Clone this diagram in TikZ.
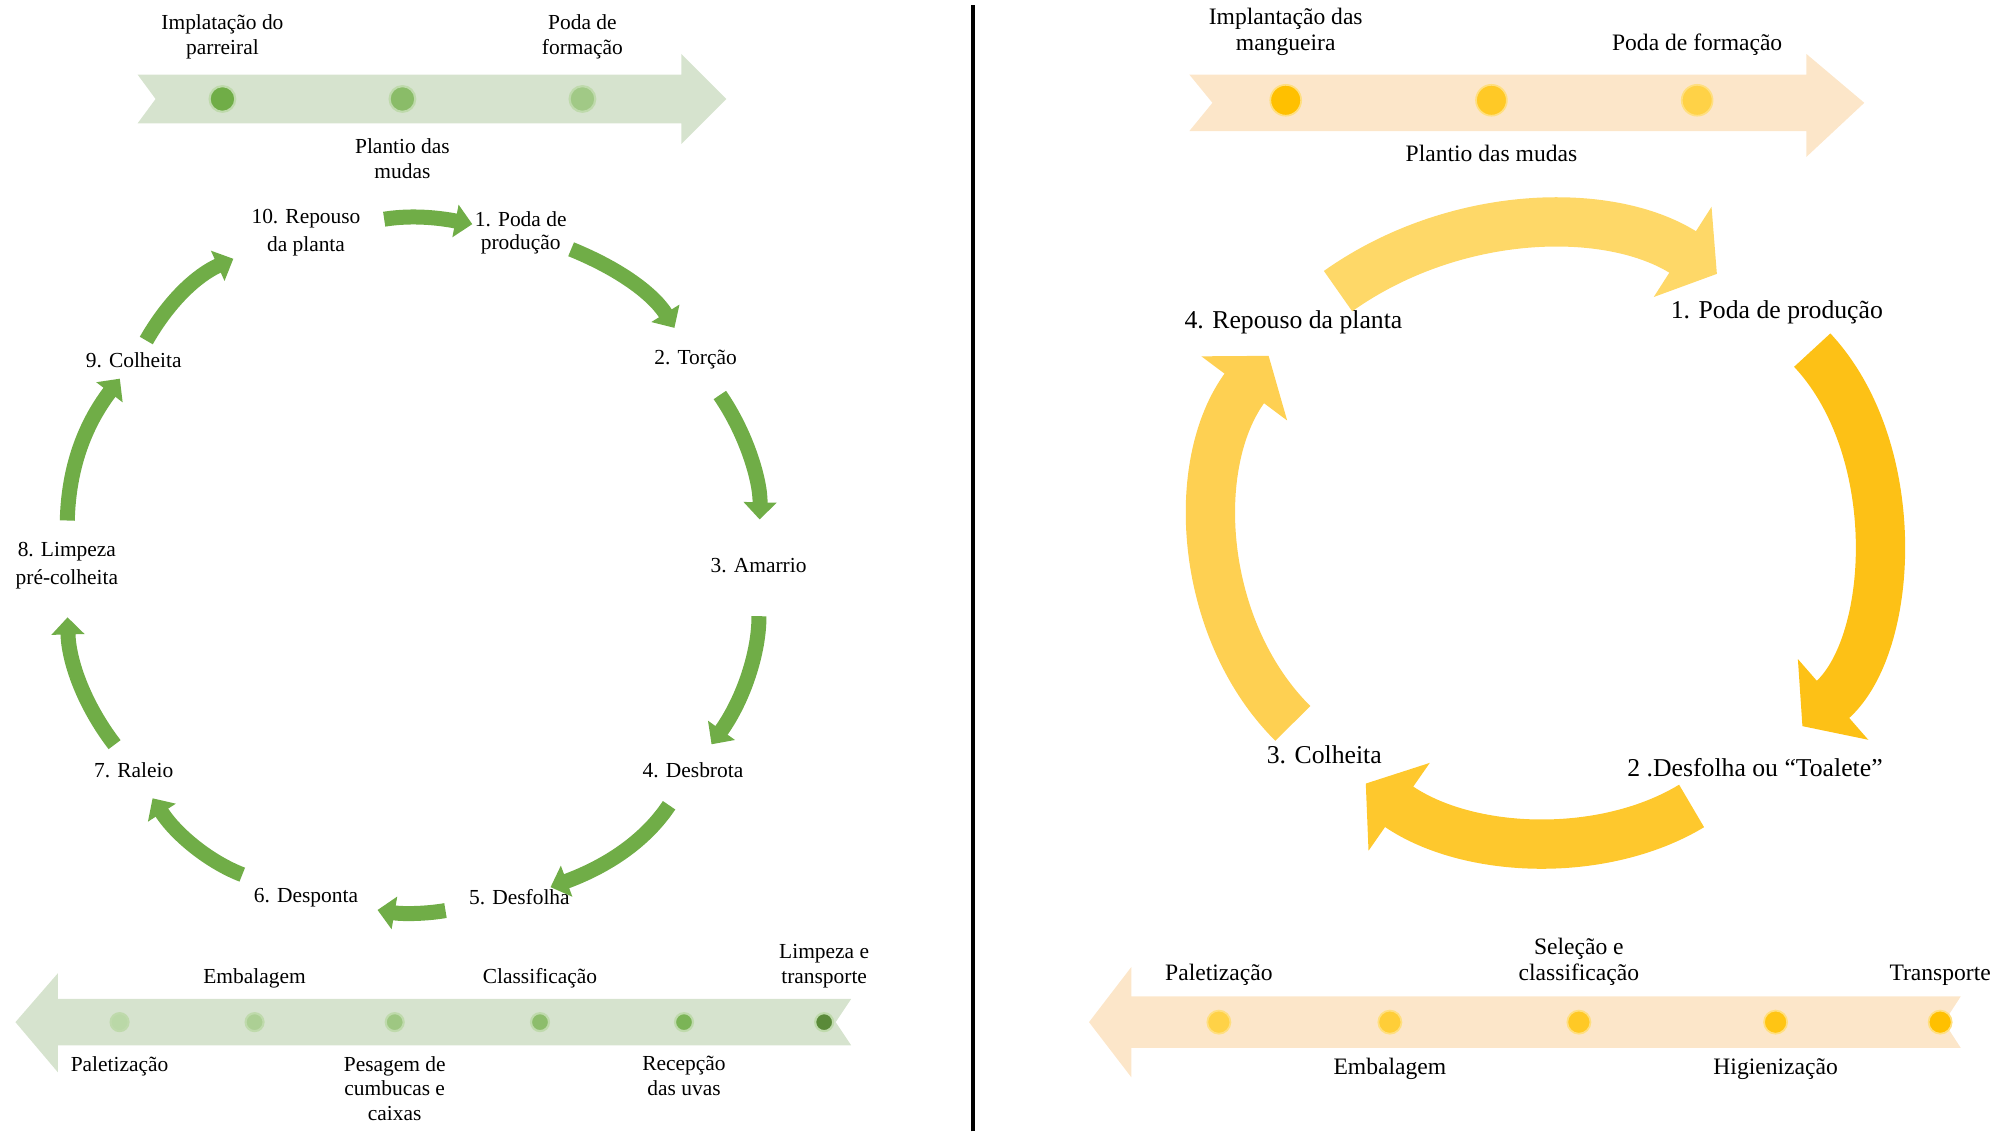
\documentclass[tikz,border=0pt]{standalone}
\usepackage{fontspec}
\setmainfont{Liberation Serif}
\usetikzlibrary{positioning,arrows.meta}
\definecolor{uva}{RGB}{112,173,71}
\definecolor{uvaband}{RGB}{214,227,206}
\definecolor{manga}{RGB}{255,192,0}
\definecolor{mangaband}{RGB}{252,230,201}

\begin{document}
\begin{tikzpicture}[x=0.6pt, y=0.6pt,
  every node/.style={font=\fontsize{10}{11.5}\selectfont, inner sep=1pt},
  tl/.style={align=center},
  mtl/.style={align=center, font=\fontsize{11}{12}\selectfont},
  gdot/.style={circle, inner sep=0pt, draw=white!55!uva, line width=1pt},
  mdot/.style={circle, inner sep=0pt, draw=white!50!manga, line width=0.8pt},
  gstage/.style={align=center, font=\fontsize{10}{13}\selectfont},
  mstage/.style={font=\fontsize{12}{14}\selectfont},
  garrow/.style={draw=uva, line width=7pt, -{Triangle[length=8pt, width=15pt]}},
  marrow/.style={line width=23pt, -{Triangle[length=19pt, width=49pt]}}
]
  \useasboundingbox (0,0) rectangle (1568,880);

  % uva: implantacao
  \fill[uvaband] (107,822) -- (530,822) -- (530,838) -- (565,803) -- (530,768)
    -- (530,784) -- (107,784) -- (121,803) -- cycle;
  \node[gdot, minimum size=12pt, fill=uva] (ga) at (173,803) {};
  \node[gdot, minimum size=12pt, fill=uva!82!white] (gb) at (313,803) {};
  \node[gdot, minimum size=12pt, fill=uva!66!white] (gc) at (453,803) {};
  \node[tl, above=11pt of ga] (gat) {Implatação do\\parreiral};
  \node[tl, below=11pt of gb] (gbt) {Plantio das\\mudas};
  \node[tl, above=11pt of gc] (gct) {Poda de\\formação};

  % uva: ciclo
  \node[gstage] (g1)  at (405,699) {1. Poda de\\[-2pt]produção};
  \node[gstage] (g2)  at (541,600) {2. Torção};
  \node[gstage] (g3)  at (590,440) {3. Amarrio};
  \node[gstage] (g4)  at (539,281) {4. Desbrota};
  \node[gstage] (g5)  at (404,182) {5. Desfolha};
  \node[gstage] (g6)  at (238,182) {6. Desponta};
  \node[gstage] (g7)  at (104,281) {7. Raleio};
  \node[gstage] (g8)  at (52,440)  {8. Limpeza\\pré-colheita};
  \node[gstage] (g9)  at (104,600) {9. Colheita};
  \node[gstage] (g10) at (238,699) {10. Repouso\\da planta};

  \draw[garrow, shorten <=10pt] (g10) to[bend left=10] (g1);
  \draw[garrow, shorten <=1pt, shorten >=11pt] (g1) to[bend left=18] (g2);
  \draw[garrow, shorten <=13pt, shorten >=17pt] (g2) to[bend left=18] (g3);
  \draw[garrow, shorten <=19pt, shorten >=9pt] (g3) to[bend left=18] (g4);
  \draw[garrow, shorten <=14pt] (g4) to[bend left=18] (g5);
  \draw[garrow, shorten <=10pt, shorten >=8pt] (g5) to[bend left=10] (g6);
  \draw[garrow, shorten <=14pt, shorten >=10pt] (g6) to[bend left=18] (g7);
  \draw[garrow, shorten <=9pt, shorten >=12pt] (g7) to[bend left=18] (g8);
  \draw[garrow, shorten <=9pt, shorten >=5pt] (g8) to[bend left=18] (g9);
  \draw[garrow, shorten <=5pt, shorten >=8pt] (g9) to[bend left=18] (g10);

  % uva: pos-colheita
  \fill[uvaband] (662,103) -- (45,103) -- (45,123) -- (12,85) -- (45,46)
    -- (45,67) -- (662,67) -- (650,85) -- cycle;
  \node[gdot, minimum size=8.4pt, fill=uva!48!white] (ha) at (93,85) {};
  \node[gdot, minimum size=8.4pt, fill=uva!58!white] (hb) at (198,85) {};
  \node[gdot, minimum size=8.4pt, fill=uva!68!white] (hc) at (307,85) {};
  \node[gdot, minimum size=8.4pt, fill=uva!80!white] (hd) at (420,85) {};
  \node[gdot, minimum size=8.4pt, fill=uva!92!white] (he) at (532,85) {};
  \node[gdot, minimum size=8.4pt, fill=uva!80!black] (hf) at (641,85) {};
  \node[tl, below=10pt of ha] (hat) {Paletização};
  \node[tl, above=10pt of hb] (hbt) {Embalagem};
  \node[tl, below=10pt of hc] (hct) {Pesagem de\\cumbucas e\\caixas};
  \node[tl, above=10pt of hd] (hdt) {Classificação};
  \node[tl, below=10pt of he] (het) {Recepção\\das uvas};
  \node[tl, above=10pt of hf] (hft) {Limpeza e\\transporte};

  % divisao
  \draw[line width=2pt] (757,0) -- (757,876);

  % manga: implantacao
  \fill[mangaband] (925,822) -- (1405,822) -- (1405,838) -- (1450,800) -- (1405,758)
    -- (1405,778) -- (925,778) -- (943,800) -- cycle;
  \node[mdot, minimum size=14.4pt, fill=manga] (ma) at (1000,802) {};
  \node[mdot, minimum size=14.4pt, fill=manga!85!white] (mb) at (1160,802) {};
  \node[mdot, minimum size=14.4pt, fill=manga!72!white] (mc) at (1320,802) {};
  \node[mtl, above=12pt of ma] (mat) {Implantação das\\mangueira};
  \node[mtl, below=12pt of mb] (mbt) {Plantio das mudas};
  \node[mtl, above=12pt of mc] (mct) {Poda de formação};

  % manga: ciclo
  \node[mstage] (y1) at (1382,637) {1. Poda de produção};
  \node[mstage] (y2) at (1365,283) {2 .Desfolha ou “Toalete”};
  \node[mstage] (y3) at (1030,293) {3. Colheita};
  \node[mstage] (y4) at (1006,629) {4. Repouso da planta};

  \draw[marrow, draw={rgb,255:red,253;green,193;blue,22}, shorten <=15pt, shorten >=21pt]
    (y1) to[bend left=46] (y2);
  \draw[marrow, draw={rgb,255:red,254;green,200;blue,45}, shorten <=24pt, shorten >=14pt]
    (y2) to[bend left=33] (y3);
  \draw[marrow, draw={rgb,255:red,254;green,208;blue,82}, shorten <=13pt, shorten >=11pt]
    (y3) to[bend left=41] (y4);
  \draw[marrow, draw={rgb,255:red,254;green,216;blue,104}, shorten <=14pt, shorten >=21pt]
    (y4) to[bend left=34] (y1);

  % manga: pos-colheita
  \fill[mangaband] (1525,105) -- (880,105) -- (880,128) -- (847,85) -- (880,42)
    -- (880,65) -- (1525,65) -- (1512,85) -- cycle;
  \node[mdot, minimum size=10.8pt, fill=manga!72!white] (na) at (948,85) {};
  \node[mdot, minimum size=10.8pt, fill=manga!78!white] (nb) at (1081,85) {};
  \node[mdot, minimum size=10.8pt, fill=manga!85!white] (nc) at (1228,85) {};
  \node[mdot, minimum size=10.8pt, fill=manga!92!white] (nd) at (1381,85) {};
  \node[mdot, minimum size=10.8pt, fill=manga] (ne) at (1509,85) {};
  \node[mtl, above=10pt of na] (nat) {Paletização};
  \node[mtl, below=10pt of nb] (nbt) {Embalagem};
  \node[mtl, above=10pt of nc] (nct) {Seleção e\\classificação};
  \node[mtl, below=10pt of nd] (ndt) {Higienização};
  \node[mtl, above=10pt of ne] (net) {Transporte};
\end{tikzpicture}
\end{document}
